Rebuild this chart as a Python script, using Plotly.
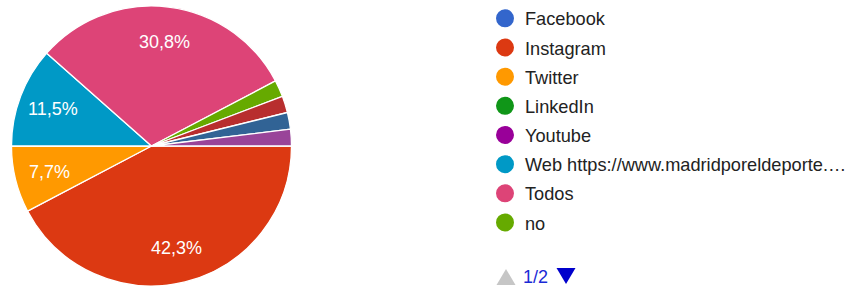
import math
import plotly.graph_objects as go

labels = ["Facebook", "Instagram", "Twitter", "LinkedIn", "Youtube",
          "Web https://www.madridporeldeporte.…", "Todos", "no",
          "Otra respuesta 1", "Otra respuesta 2", "Otra respuesta 3"]
counts = [0, 22, 4, 0, 0, 6, 16, 1, 1, 1, 1]
colors = ["#3366cc", "#dc3912", "#ff9900", "#109618", "#990099",
          "#0099c6", "#dd4477", "#66aa00", "#b82e2e", "#316395", "#994499"]
legend_count = 8  # entries shown on legend page 1/2
page_text = "1/2"
start_angle = 90  # degrees clockwise from 12 o'clock

W, H = 853, 286
cx, cy, R = 151.5, 146.5, 140  # pie centre / radius in pixels
fig = go.Figure()
fig.add_trace(go.Pie(
    labels=labels, values=counts, sort=False, direction="clockwise",
    rotation=start_angle, marker=dict(colors=colors, line=dict(color="white", width=1.3)),
    textinfo="none", showlegend=False, hoverinfo="label+percent",
    domain=dict(x=[(cx - R) / W, (cx + R) / W], y=[0, 2 * R / H]),
))

# percentage labels at the middle of each large slice
total = sum(counts)
acc = 0
for c in counts:
    frac = c / total
    if frac > 0.05:
        mid = math.radians(start_angle + 360 * (acc + c / 2) / total)
        px = cx + 0.75 * R * math.sin(mid)
        py = cy - 0.75 * R * math.cos(mid)
        fig.add_annotation(x=px / W, y=1 - py / H, xref="paper", yref="paper",
                           xanchor="center", yanchor="middle",
                           text=f"{frac * 100:.1f}%".replace(".", ","), showarrow=False,
                           font=dict(size=18, color="white", family="Arial"))
    acc += c

for i in range(legend_count):
    fig.add_trace(go.Scatter(
        x=[None], y=[None], mode="markers", name=labels[i],
        marker=dict(symbol="circle", size=16, color=colors[i],
                    line=dict(color=colors[i], width=2)),
        legendgroup=str(i), showlegend=True,
    ))


def px2paper(x, y):
    return x / W, 1 - y / H


def tri_path(pts):
    p = [px2paper(x, y) for x, y in pts]
    return "M {} {} L {} {} L {} {} Z".format(p[0][0], p[0][1], p[1][0], p[1][1], p[2][0], p[2][1])


# legend pager: ▲ 1/2 ▼
fig.add_shape(type="path", xref="paper", yref="paper", line=dict(width=0),
              fillcolor="#c6c6c6", path=tri_path([(496.5, 285), (515.5, 285), (506, 269)]))
fig.add_shape(type="path", xref="paper", yref="paper", line=dict(width=0),
              fillcolor="#0000cc", path=tri_path([(556.5, 268), (575.5, 268), (566, 284)]))
fig.add_annotation(x=535.5 / W, y=1 - 277 / H, xref="paper", yref="paper",
                   xanchor="center", yanchor="middle",
                   text=page_text, showarrow=False, font=dict(size=18, color="#1a2ad6", family="Arial"))

fig.update_layout(
    width=W, height=H, margin=dict(l=0, r=0, t=0, b=0, autoexpand=False),
    paper_bgcolor="white", plot_bgcolor="white",
    xaxis=dict(visible=False), yaxis=dict(visible=False),
    legend=dict(x=485 / W, y=1, xanchor="left", yanchor="top",
                font=dict(size=18.2, color="#222222", family="Arial"),
                tracegroupgap=2.5, itemsizing="trace", bgcolor="rgba(0,0,0,0)"),
)
fig.write_html("out.html", config={"displayModeBar": False},
               post_script="document.body.style.margin='0px';")
